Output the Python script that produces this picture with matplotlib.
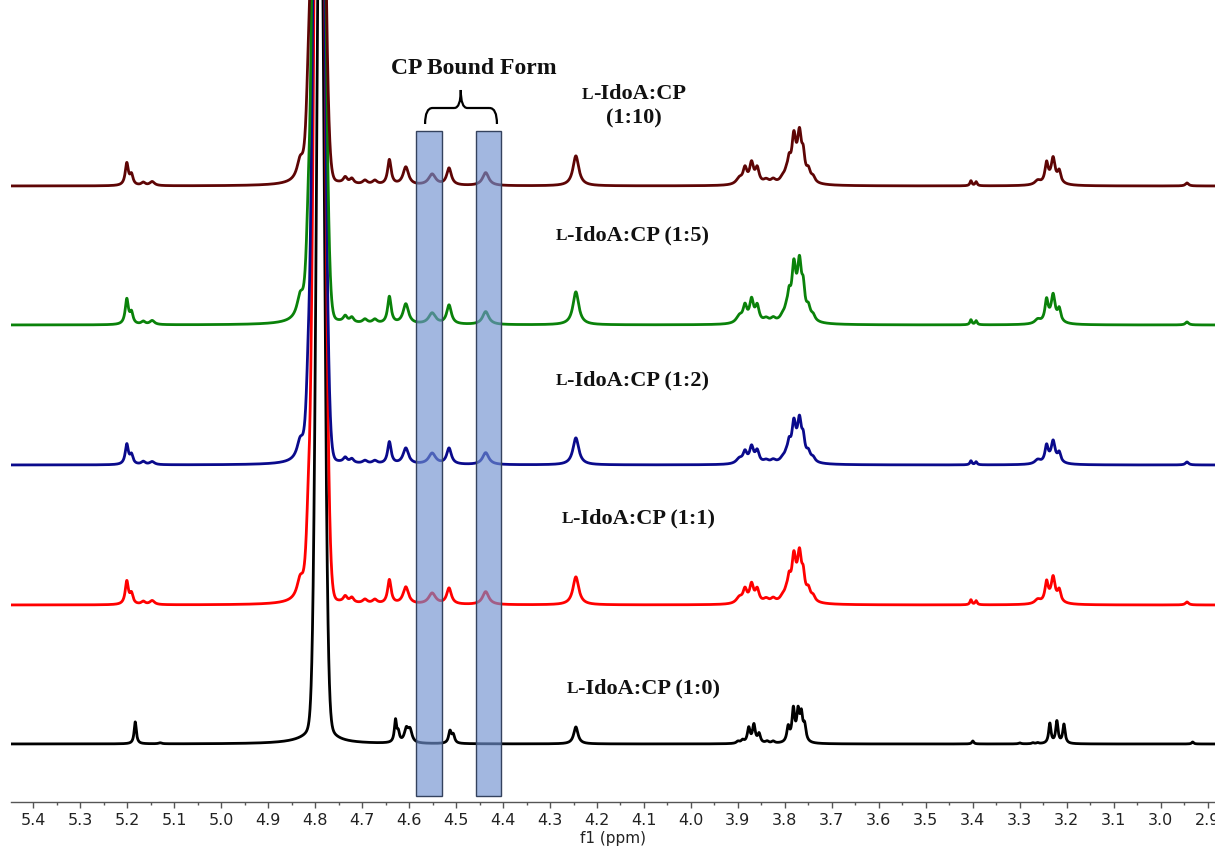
"""Stacked 1H NMR spectra of L-IdoA with increasing CP."""

import matplotlib
matplotlib.use("Agg")
import matplotlib.pyplot as plt
from matplotlib.patches import Rectangle, PathPatch
from matplotlib.path import Path
from matplotlib.offsetbox import TextArea, HPacker, VPacker, AnnotationBbox
from matplotlib.ticker import MultipleLocator, FormatStrFormatter
import numpy as np

WIDTH, HEIGHT, DPI = 1215, 848, 100

# spectra from top to bottom
ratios = ["1:10", "1:5", "1:2", "1:1", "1:0"]
colors = ["#5e0505", "#0a820a", "#0a0a8c", "#ff0000", "#000000"]
offsets = [616, 477, 337, 197, 58]

# HOD signal (gaussian core) of every spectrum
water_ppm = [4.793, 4.792, 4.792, 4.791, 4.789]
water_height = [860, 1130, 1150, 1230, 900]
water_sigma = [0.0097, 0.0095, 0.0095, 0.0095, 0.0078]

# lorentzian lines of the spectra that contain CP
cp_ppm = [5.201, 5.191, 5.166, 5.147, 4.832, 4.815, 4.800, 4.736, 4.722, 4.694,
          4.673, 4.642, 4.607, 4.551, 4.515, 4.437, 4.245, 3.897, 3.885, 3.871,
          3.859, 3.840, 3.825, 3.805, 3.797, 3.791, 3.781, 3.769, 3.761, 3.750,
          3.740, 3.775, 3.404, 3.393, 3.262, 3.243, 3.229, 3.216, 3.230, 2.944]
cp_width = [0.0040, 0.0040, 0.0050, 0.0060, 0.0080, 0.0060, 0.0350, 0.0050, 0.0050, 0.0060,
            0.0060, 0.0045, 0.0070, 0.0090, 0.0060, 0.0080, 0.0075, 0.0080, 0.0050, 0.0050,
            0.0050, 0.0070, 0.0060, 0.0060, 0.0050, 0.0040, 0.0050, 0.0050, 0.0040, 0.0050,
            0.0050, 0.0180, 0.0025, 0.0025, 0.0070, 0.0040, 0.0045, 0.0040, 0.0150, 0.0040]
cp_height = [
    [22, 10, 3, 4, 18, 60, 10, 6, 5, 4, 4, 25, 18, 11, 17, 13, 30, 6, 15, 20,
     15, 4, 4, 4, 6, 15, 38, 40, 20, 10, 5, 8, 5, 4, 4, 19, 21, 11, 6, 3],
    [25, 11, 3, 4, 20, 66, 11, 6, 5, 4, 4, 27, 20, 11, 19, 13, 33, 7, 16, 22,
     16, 4, 4, 4, 7, 18, 46, 48, 24, 11, 5, 9, 5, 4, 4, 21, 23, 12, 6, 3],
    [20, 9, 3, 3, 17, 56, 9, 5, 4, 3, 3, 22, 16, 11, 16, 12, 27, 5, 11, 16,
     12, 3, 3, 3, 5, 13, 32, 34, 17, 8, 4, 7, 4, 3, 4, 16, 18, 9, 5, 3],
    [23, 10, 3, 4, 18, 60, 10, 6, 5, 4, 4, 24, 17, 11, 16, 13, 28, 6, 13, 18,
     13, 4, 4, 4, 6, 16, 37, 39, 19, 10, 5, 8, 5, 4, 4, 19, 21, 11, 6, 3],
]

# lorentzian lines of free L-IdoA
free_ppm = [5.183, 5.130, 4.800, 4.789, 4.629, 4.623, 4.606, 4.598, 4.513, 4.506,
            4.245, 3.900, 3.890, 3.877, 3.866, 3.855, 3.838, 3.825, 3.793, 3.782,
            3.772, 3.765, 3.758, 3.400, 3.300, 3.272, 3.262, 3.236, 3.221, 3.206, 2.932]
free_width = [0.0028, 0.004, 0.050, 0.012, 0.0028, 0.003, 0.005, 0.005, 0.0035, 0.0035,
              0.0055, 0.004, 0.004, 0.0035, 0.0035, 0.0035, 0.004, 0.004, 0.0035, 0.0035,
              0.0035, 0.0035, 0.0035, 0.0025, 0.003, 0.003, 0.003, 0.003, 0.003, 0.003, 0.0025]
free_height = [22, 1, 4, 60, 22, 9, 13, 12, 12, 8,
               17, 2, 3, 15, 18, 9, 2, 2, 15, 32,
               28, 25, 15, 3, 1, 1, 1, 20, 22, 19, 2]

# CP bound form regions
box_left = [4.586, 4.458]
box_right = [4.531, 4.404]

label_x = [4.121, 4.125, 4.125, 4.112, 4.101]
label_y = [696, 567, 422, 284, 114]


def lorentz(x, center, height, width):
    return height * width ** 2 / ((x - center) ** 2 + width ** 2)


def spectrum(x, i):
    y = np.full_like(x, offsets[i], dtype=float)
    y += water_height[i] * np.exp(-(x - water_ppm[i]) ** 2 / (2 * water_sigma[i] ** 2))
    if i < 4:
        peaks = zip(cp_ppm, cp_height[i], cp_width)
    else:
        peaks = zip(free_ppm, free_height, free_width)
    for c, h, w in peaks:
        y += lorentz(x, c, h, w)
    return y


def label_box(ratio, two_lines):
    bold = dict(fontfamily="Liberation Serif", fontweight="bold", color="#111111")
    small = TextArea("L", textprops=dict(fontsize=12.5, **bold))
    if two_lines:
        rest = TextArea("-IdoA:CP", textprops=dict(fontsize=16, **bold))
        first = HPacker(children=[small, rest], align="baseline", pad=0, sep=0)
        second = TextArea("(%s)" % ratio, textprops=dict(fontsize=16, **bold))
        return VPacker(children=[first, second], align="center", pad=0, sep=3)
    rest = TextArea("-IdoA:CP (%s)" % ratio, textprops=dict(fontsize=16, **bold))
    return HPacker(children=[small, rest], align="baseline", pad=0, sep=0)


fig = plt.figure(figsize=(WIDTH / DPI, HEIGHT / DPI), dpi=DPI)
ax = fig.add_axes([11 / WIDTH, 1 - 802 / HEIGHT, 1 - 11 / WIDTH, 802 / HEIGHT])

x = np.linspace(5.46, 2.88, 9000)
for i in range(len(ratios)):
    ax.plot(x, spectrum(x, i), color=colors[i], lw=2.0, zorder=2 + (5 - i) * 0.1)

for lo, hi in zip(box_left, box_right):
    ax.add_patch(Rectangle((hi, 6), lo - hi, 665, facecolor="#7091d0", alpha=0.65,
                           edgecolor="none", zorder=4))
    ax.add_patch(Rectangle((hi, 6), lo - hi, 665, facecolor="none",
                           edgecolor="#34425e", lw=1.0, zorder=5))

# curly brace over the two regions
bl, br, bm = 4.566, 4.413, 4.490
verts = [(bl, 678), (bl, 694), (bl - 0.016, 694),
         (bm + 0.014, 694), (bm + 0.014, 694), (bm, 694), (bm, 712),
         (bm, 694), (bm - 0.014, 694),
         (br + 0.016, 694), (br + 0.016, 694), (br, 694), (br, 678)]
codes = [Path.MOVETO, Path.CURVE3, Path.CURVE3,
         Path.LINETO, Path.MOVETO, Path.CURVE3, Path.CURVE3,
         Path.CURVE3, Path.CURVE3,
         Path.LINETO, Path.MOVETO, Path.CURVE3, Path.CURVE3]
ax.add_patch(PathPatch(Path(verts, codes), facecolor="none", edgecolor="black",
                       lw=1.6, zorder=6))
ax.text(4.462, 733, "CP Bound Form", ha="center", va="center", fontsize=17,
        fontfamily="Liberation Serif", fontweight="bold", color="#111111")

for i, ratio in enumerate(ratios):
    box = label_box(ratio, i == 0)
    ab = AnnotationBbox(box, (label_x[i], label_y[i]), xycoords="data", frameon=False,
                        box_alignment=(0.5, 0.5), pad=0)
    ax.add_artist(ab)

ax.set_xlim(5.4475, 2.8844)
ax.set_ylim(0, 802)
for side in ("top", "left", "right"):
    ax.spines[side].set_visible(False)
ax.spines["bottom"].set_color("#555555")
ax.spines["bottom"].set_linewidth(1.0)
ax.set_yticks([])
ax.xaxis.set_major_locator(MultipleLocator(0.1))
ax.xaxis.set_minor_locator(MultipleLocator(0.05))
ax.xaxis.set_major_formatter(FormatStrFormatter("%.1f"))
ax.tick_params(axis="x", which="major", length=4, width=1, color="#555555",
               labelsize=11.5, labelcolor="#222222", pad=4)
ax.tick_params(axis="x", which="minor", length=2.5, width=1, color="#555555")
ax.set_xlabel("f1 (ppm)", fontsize=11, color="#222222", labelpad=2)

fig.savefig("out.png", dpi=DPI)
plt.close(fig)
